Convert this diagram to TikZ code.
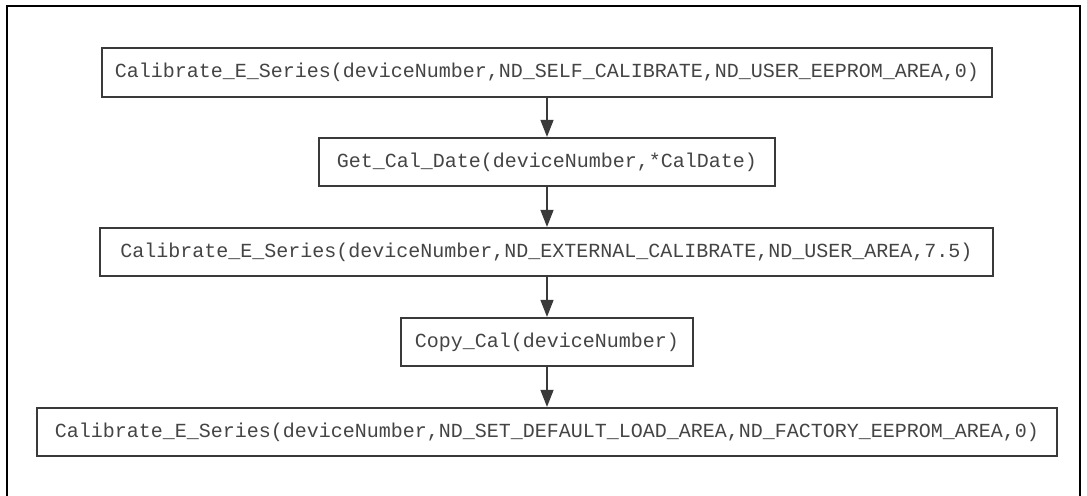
\documentclass[tikz,border=0pt]{standalone}
\usepackage{fontspec}
\setmonofont{Liberation Mono}
\usetikzlibrary{arrows.meta}
\definecolor{ink}{HTML}{444444}
\definecolor{edge}{HTML}{3A3A3A}
\tikzset{
  callbox/.style={draw=edge, line width=1.2bp, inner sep=0pt, minimum height=48bp,
    text=ink, font=\fontsize{20bp}{22bp}\selectfont\ttfamily},
  flowarrow/.style={draw=edge, line width=1.3bp, -{Triangle[length=17bp,width=13bp]}, shorten >=0.5bp}
}
\begin{document}
\begin{tikzpicture}[x=1bp,y=-1bp]
\useasboundingbox (0,0) rectangle (1087,496);
\draw[line width=2.6bp, black] (7,498) -- (7,6) -- (1080,6) -- (1080,498);
\node[callbox, minimum width=890bp, minimum height=49bp] (b1) at (547,72.5) {Calibrate\_E\_Series(deviceNumber,ND\_SELF\_CALIBRATE,ND\_USER\_EEPROM\_AREA,0)};
\node[callbox, minimum width=456bp] (b2) at (547,162) {Get\_Cal\_Date(deviceNumber,*CalDate)};
\node[callbox, minimum width=893bp] (b3) at (546.5,252) {Calibrate\_E\_Series(deviceNumber,ND\_EXTERNAL\_CALIBRATE,ND\_USER\_AREA,7.5)};
\node[callbox, minimum width=292bp] (b4) at (547,342) {Copy\_Cal(deviceNumber)};
\node[callbox, minimum width=1020bp] (b5) at (547,432) {Calibrate\_E\_Series(deviceNumber,ND\_SET\_DEFAULT\_LOAD\_AREA,ND\_FACTORY\_EEPROM\_AREA,0)};
\draw[flowarrow] (b1.south -| b2.north) -- (b2.north);
\draw[flowarrow] (b2.south) -- (b2.south |- b3.north);
\draw[flowarrow] (b3.south -| b4.north) -- (b4.north);
\draw[flowarrow] (b4.south) -- (b4.south |- b5.north);
\end{tikzpicture}
\end{document}
